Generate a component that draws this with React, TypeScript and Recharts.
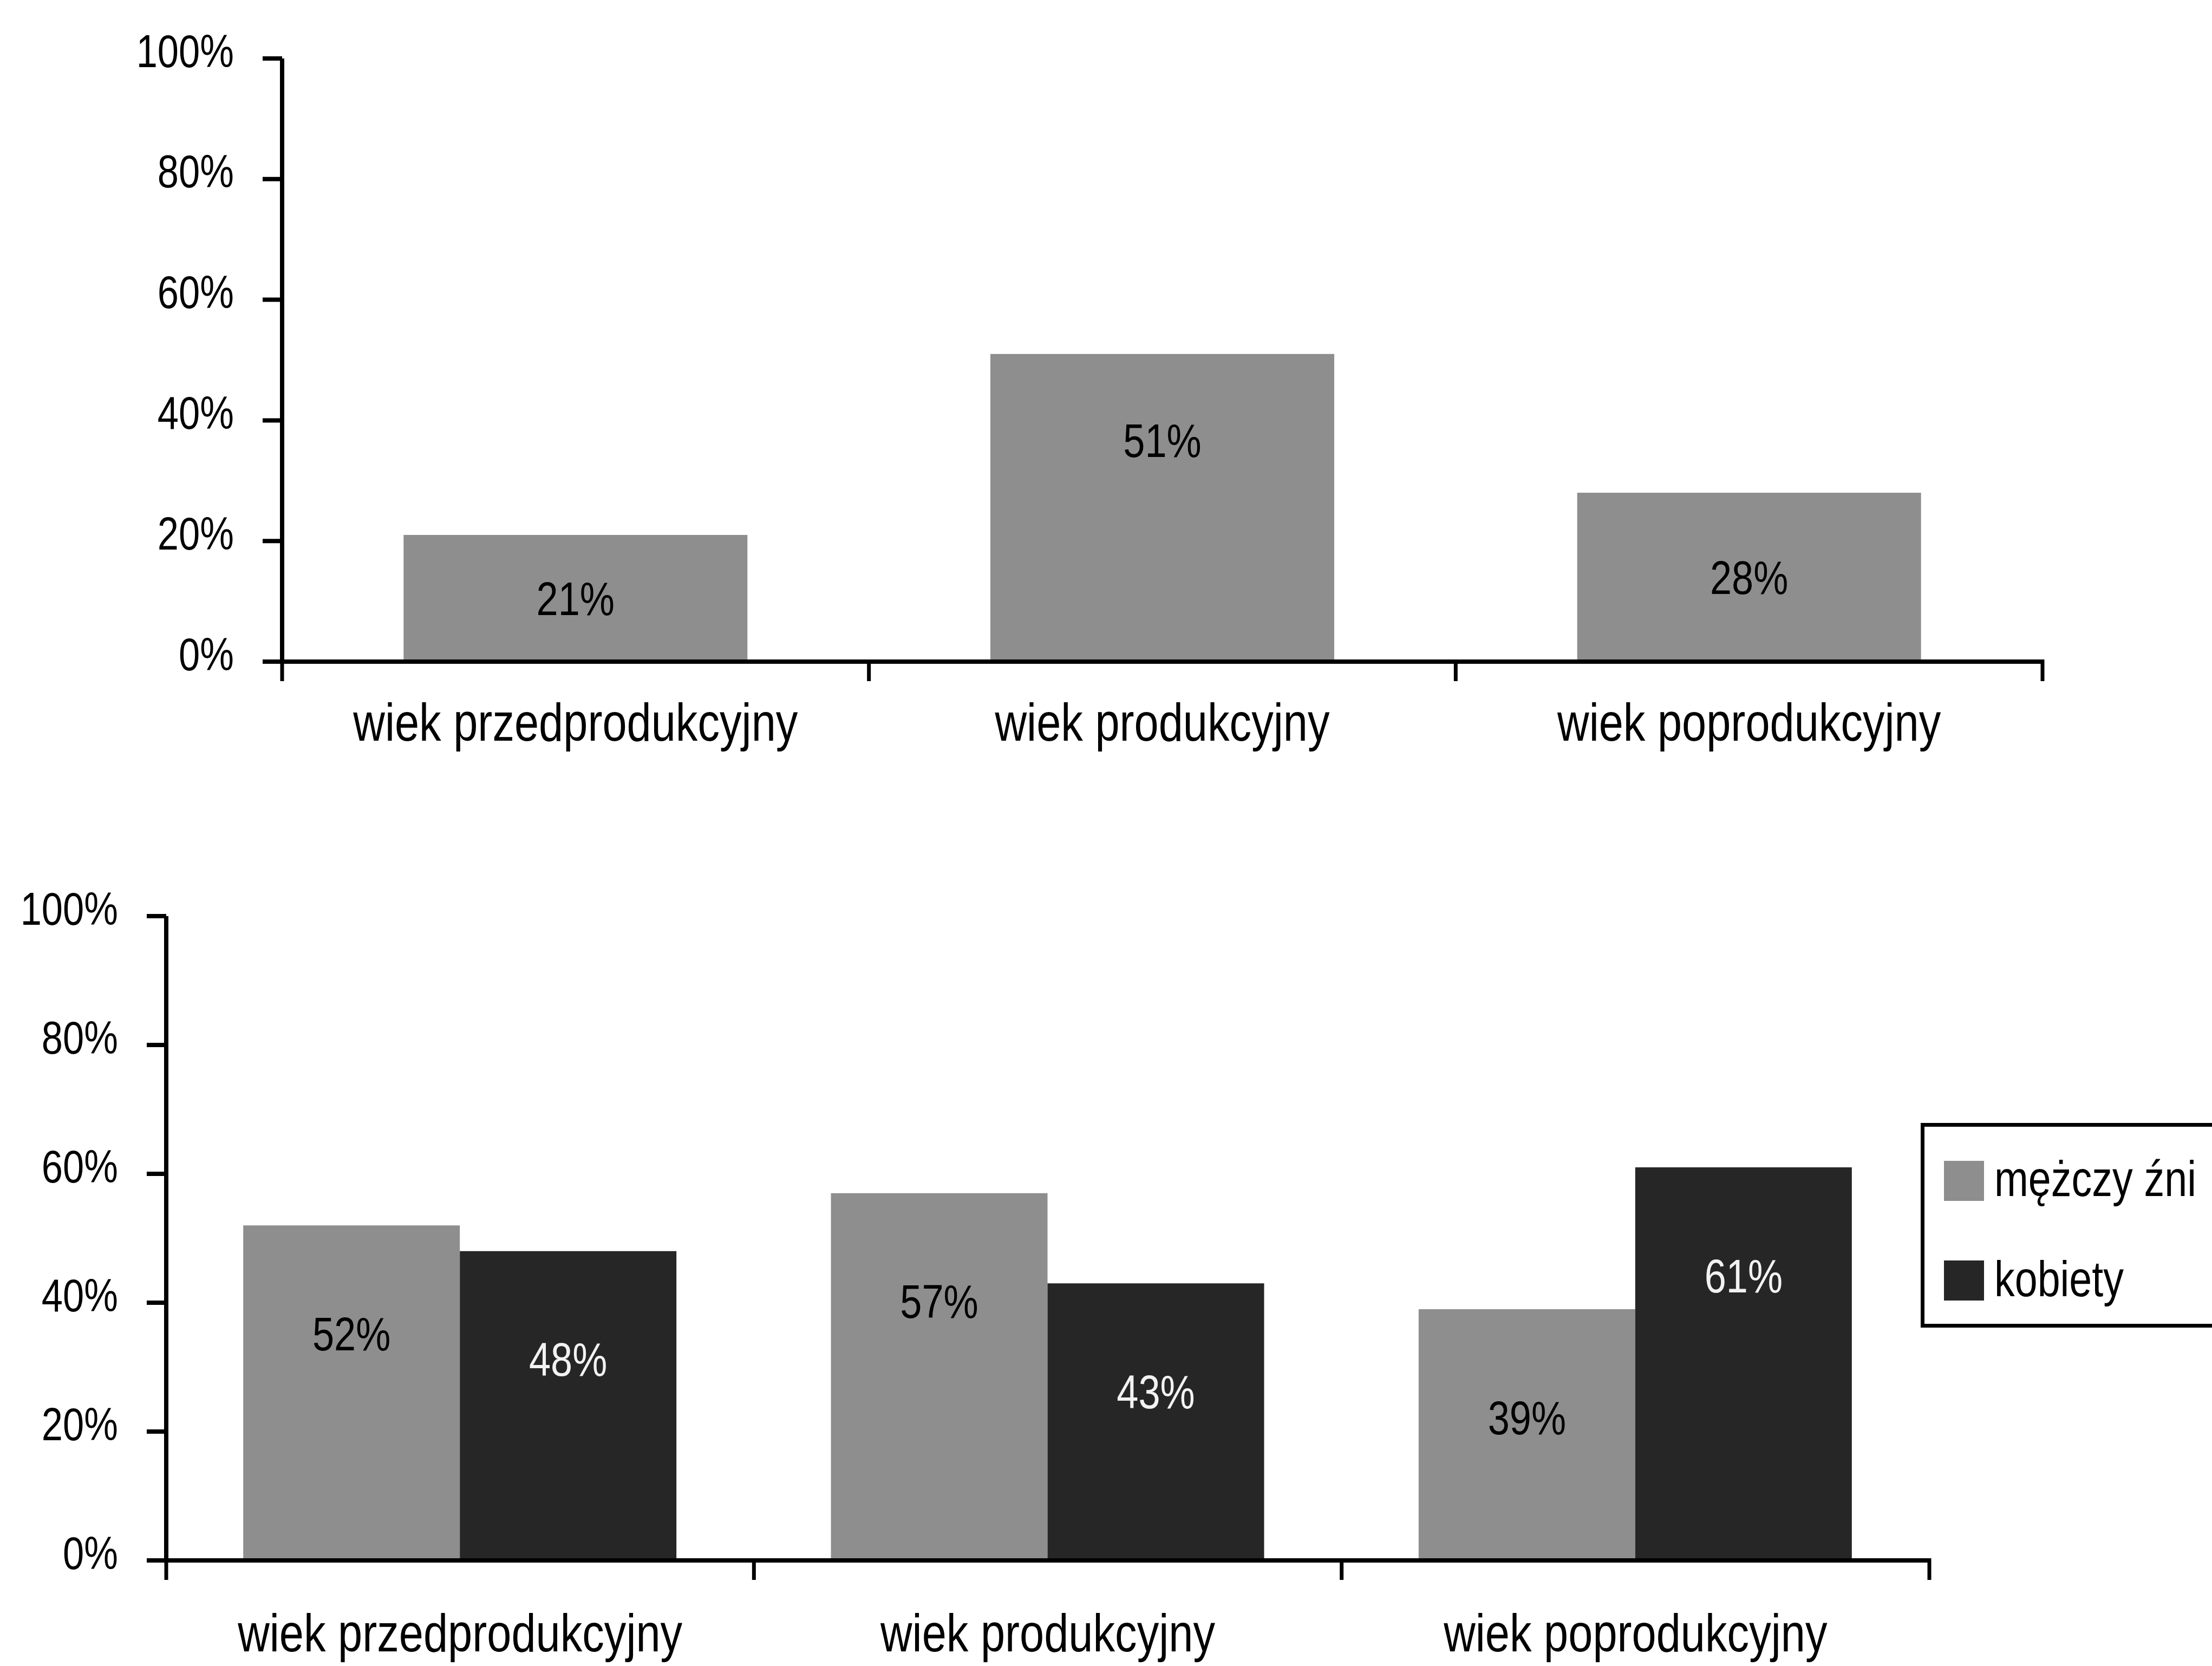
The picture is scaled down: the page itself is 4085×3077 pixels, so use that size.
import React from 'react';
import { BarChart, Bar, XAxis, YAxis, LabelList, Legend } from 'recharts';

// ---- data ----
const categories = ['wiek przedprodukcyjny', 'wiek produkcyjny', 'wiek poprodukcyjny'];
const totalShare = [21, 51, 28];
const maleShare = [52, 57, 39];
const femaleShare = [48, 43, 61];
const yTicks = [0, 20, 40, 60, 80, 100];
const maleName = 'mężczy źni';
const femaleName = 'kobiety';
const legendOrder = [maleName, femaleName];

const topData = categories.map((c, i) => ({ name: c, total: totalShare[i] }));
const bottomData = categories.map((c, i) => ({ name: c, male: maleShare[i], female: femaleShare[i] }));

// ---- style ----
const FONT = "'Liberation Sans', Arial, sans-serif";
const SX = 0.82; // horizontal condensing (Arial Narrow look)
const GRAY = '#8e8e8e';
const DARK = '#262626';
const INK = '#000';
const AXIS_W = 8;
const TICK_LEN = 36;

const W = 4085;

const NText = ({ x, y, anchor = 'start', size, fill = INK, baseline, children }: any) => (
  <text
    transform={`translate(${x},${y}) scale(${SX},1)`}
    x={0}
    y={0}
    textAnchor={anchor}
    dominantBaseline={baseline}
    fontFamily={FONT}
    fontSize={size}
    fill={fill}
  >
    {children}
  </text>
);

const YTick = (props: any) => {
  const { x, y, payload } = props;
  return (
    <NText x={x} y={y - 14} anchor="end" baseline="central" size={86}>
      {payload.value}%
    </NText>
  );
};

const makeXTick = (band: number, labelDy: number) => (props: any) => {
  const { x, y, payload, index } = props;
  const left = x - band / 2;
  const right = x + band / 2;
  return (
    <g>
      <line x1={left} y1={y} x2={left} y2={y + TICK_LEN} stroke={INK} strokeWidth={AXIS_W - 1} />
      {index === categories.length - 1 && (
        <line x1={right} y1={y - AXIS_W / 2} x2={right} y2={y + TICK_LEN} stroke={INK} strokeWidth={AXIS_W - 1} />
      )}
      <NText x={x} y={y + labelDy} anchor="middle" size={99}>
        {payload.value}
      </NText>
    </g>
  );
};

const TopLabel = (p: any) => {
  const { x, y, width, height, value } = p;
  const cy = y + Math.min(height / 2, 160);
  return (
    <NText x={x + width / 2} y={cy} anchor="middle" baseline="central" size={88}>
      {value}%
    </NText>
  );
};

const makeBottomLabel = (fill: string) => (p: any) => {
  const { x, y, width, value } = p;
  return (
    <NText x={x + width / 2} y={y + 200} anchor="middle" baseline="central" size={88} fill={fill}>
      {value}%
    </NText>
  );
};

const LegendBox = (props: any) => {
  const payload = [...(props.payload || [])].sort(
    (a: any, b: any) => legendOrder.indexOf(a.value) - legendOrder.indexOf(b.value)
  );
  return (
    <svg width={620} height={380} style={{ display: 'block', overflow: 'visible' }}>
      <rect x={3.5} y={3.5} width={640} height={371} fill="#fff" stroke={INK} strokeWidth={7} />
      {payload.map((item: any, i: number) => (
        <g key={i}>
          <rect x={43} y={70 + i * 184} width={74} height={74} fill={item.color} />
          <NText x={136} y={135 + i * 185} size={92}>
            {item.value}
          </NText>
        </g>
      ))}
    </svg>
  );
};

// top chart geometry
const T_H = 1500;
const T_LEFT = 521;
const T_RIGHT = 3772;
const T_TOP = 108;
const T_BOTTOM = 1222;
const T_BAND = (T_RIGHT - T_LEFT) / 3;

// bottom chart geometry
const B_OFF = 1500;
const B_H = 1577;
const B_LEFT = 307;
const B_RIGHT = 3563;
const B_TOP = 1692 - B_OFF;
const B_BOTTOM = 2882 - B_OFF;
const B_BAND = (B_RIGHT - B_LEFT) / 3;

export default function App() {
  return (
    <div style={{ position: 'absolute', left: 0, top: 0, width: W, height: 3077, overflow: 'hidden', background: '#fff' }}>
      <div style={{ position: 'absolute', left: 0, top: 0 }}>
        <BarChart
          width={W}
          height={T_H}
          data={topData}
          margin={{ top: T_TOP, left: 0, right: W - T_RIGHT, bottom: 0 }}
          barCategoryGap="20.7%"
        >
          <XAxis
            dataKey="name"
            height={T_H - T_BOTTOM}
            axisLine={{ stroke: INK, strokeWidth: AXIS_W }}
            tickLine={false}
            tickSize={0}
            tickMargin={0}
            interval={0}
            tick={makeXTick(T_BAND, 146)}
          />
          <YAxis
            width={T_LEFT}
            domain={[0, 100]}
            ticks={yTicks}
            axisLine={{ stroke: INK, strokeWidth: AXIS_W }}
            tickLine={{ stroke: INK, strokeWidth: AXIS_W }}
            tickSize={TICK_LEN}
            tickMargin={53}
            tick={YTick}
          />
          <Bar dataKey="total" fill={GRAY} isAnimationActive={false}>
            <LabelList dataKey="total" content={TopLabel} />
          </Bar>
        </BarChart>
      </div>
      <div style={{ position: 'absolute', left: 0, top: B_OFF }}>
        <BarChart
          width={W}
          height={B_H}
          data={bottomData}
          margin={{ top: B_TOP, left: 0, right: W - B_RIGHT, bottom: 0 }}
          barCategoryGap="13.1%"
          barGap={0}
        >
          <XAxis
            dataKey="name"
            height={B_H - B_BOTTOM}
            axisLine={{ stroke: INK, strokeWidth: AXIS_W }}
            tickLine={false}
            tickSize={0}
            tickMargin={0}
            interval={0}
            tick={makeXTick(B_BAND, 168)}
          />
          <YAxis
            width={B_LEFT}
            domain={[0, 100]}
            ticks={yTicks}
            axisLine={{ stroke: INK, strokeWidth: AXIS_W }}
            tickLine={{ stroke: INK, strokeWidth: AXIS_W }}
            tickSize={TICK_LEN}
            tickMargin={53}
            tick={YTick}
          />
          <Legend
            layout="vertical"
            align="center"
            verticalAlign="middle"
            width={620}
            height={380}
            wrapperStyle={{ left: 3547, top: 2074 - B_OFF, width: 620, height: 380 }}
            content={LegendBox}
          />
          <Bar dataKey="male" name={maleName} fill={GRAY} isAnimationActive={false}>
            <LabelList dataKey="male" content={makeBottomLabel(INK)} />
          </Bar>
          <Bar dataKey="female" name={femaleName} fill={DARK} isAnimationActive={false}>
            <LabelList dataKey="female" content={makeBottomLabel('#f2f2f2')} />
          </Bar>
        </BarChart>
      </div>
    </div>
  );
}
